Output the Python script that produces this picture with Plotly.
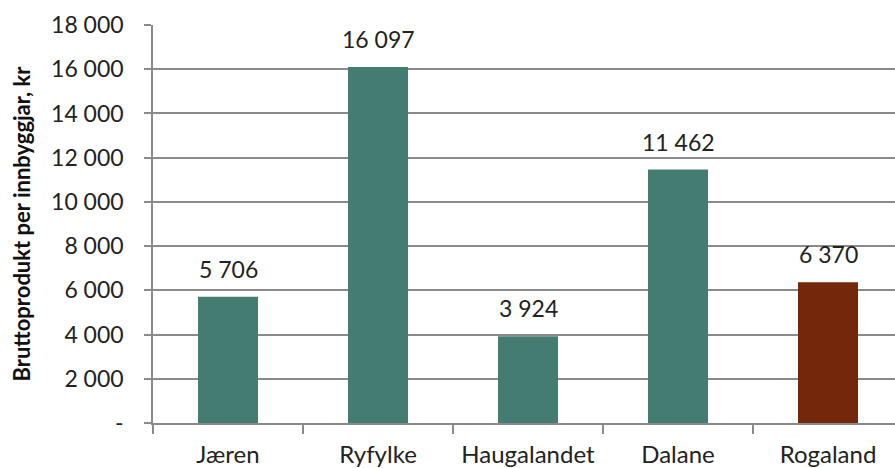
import plotly.graph_objects as go

regions = ["Jæren", "Ryfylke", "Haugalandet", "Dalane", "Rogaland"]
gdp_per_capita = [5706, 16097, 3924, 11462, 6370]
bar_colors = ["#457C72", "#457C72", "#457C72", "#457C72", "#73280B"]
y_ticks = [0, 2000, 4000, 6000, 8000, 10000, 12000, 14000, 16000, 18000]


def fmt(v):
    return "-" if v == 0 else f"{v:,}".replace(",", " ")


FONT = "Lato, Calibri, Carlito, sans-serif"
GRID = "#8A8A8A"

fig = go.Figure(
    go.Bar(
        x=regions,
        y=gdp_per_capita,
        marker=dict(color=bar_colors, line=dict(width=0)),
        width=0.4,
        hoverinfo="skip",
    )
)

for r, v in zip(regions, gdp_per_capita):
    fig.add_annotation(
        x=r, y=v, text=fmt(v), showarrow=False,
        yanchor="bottom", yshift=12,
        font=dict(family=FONT, size=23, color="#222222"),
    )

fig.update_layout(
    width=895, height=468,
    margin=dict(l=153, r=0, t=25, b=45),
    paper_bgcolor="white", plot_bgcolor="white",
    showlegend=False,
    font=dict(family=FONT, color="#222222"),
    xaxis=dict(
        range=[-0.5, -0.5 + 742 / 150],
        automargin=False,
        showline=True, linecolor=GRID, linewidth=1.5,
        ticks="outside", tickson="boundaries", ticklen=9,
        tickcolor=GRID, tickwidth=1.5,
        ticklabelstandoff=9,
        tickfont=dict(family=FONT, size=24, color="#222222"),
        showgrid=False, fixedrange=True,
    ),
    yaxis=dict(
        range=[0, 18000],
        automargin=False,
        tickvals=y_ticks, ticktext=[fmt(t) for t in y_ticks],
        showline=True, linecolor=GRID, linewidth=1.5,
        ticks="outside", ticklen=7, tickcolor=GRID, tickwidth=1.5,
        ticklabelstandoff=16,
        showgrid=True, gridcolor=GRID, gridwidth=1.5,
        zeroline=False,
        tickfont=dict(family=FONT, size=23, color="#222222"),
        title=dict(
            text="<b>Bruttoprodukt per innbyggjar, kr</b>",
            font=dict(family=FONT, size=22, color="#111111"),
            standoff=14,
        ),
        fixedrange=True,
    ),
)

fig.write_html("out.html")
